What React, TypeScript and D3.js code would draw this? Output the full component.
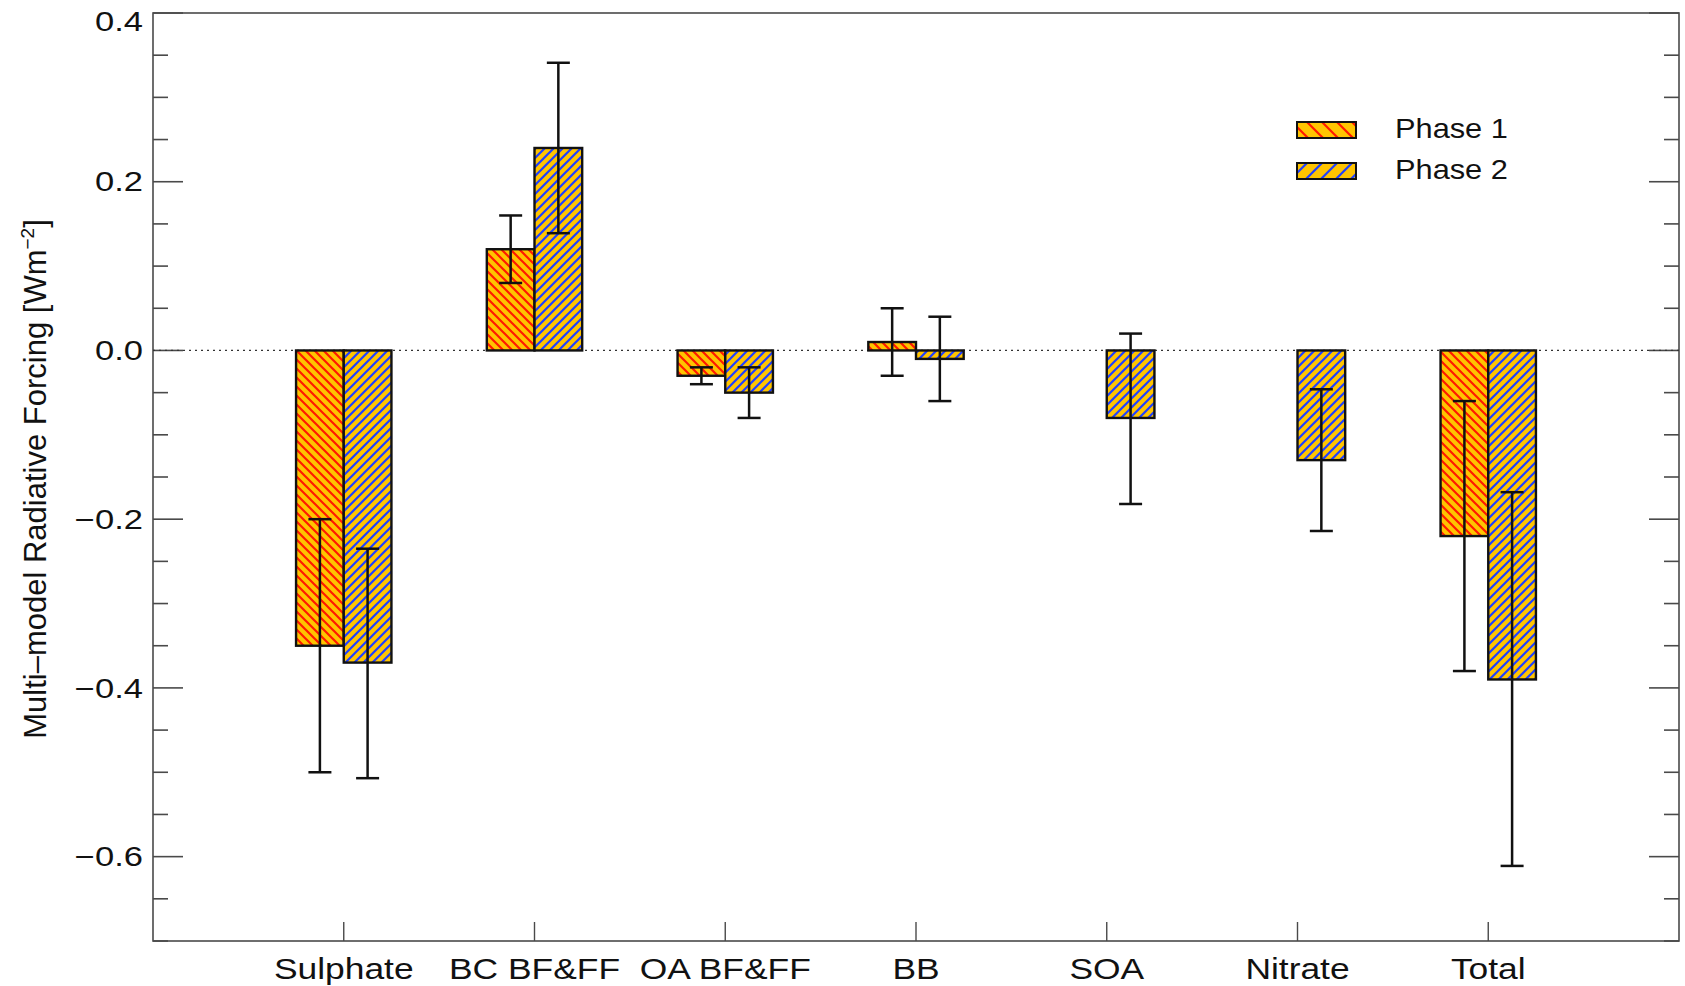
import React, { useEffect, useRef } from "react";
import * as d3 from "d3";

const categories = ["Sulphate", "BC BF&FF", "OA BF&FF", "BB", "SOA", "Nitrate", "Total"];
const phase1 = [-0.35, 0.12, -0.03, 0.01, null, null, -0.22];
const phase1Lo = [-0.5, 0.08, -0.04, -0.03, null, null, -0.38];
const phase1Hi = [-0.2, 0.16, -0.02, 0.05, null, null, -0.06];
const phase2 = [-0.37, 0.24, -0.05, -0.01, -0.08, -0.13, -0.39];
const phase2Lo = [-0.507, 0.139, -0.08, -0.06, -0.182, -0.214, -0.611];
const phase2Hi = [-0.235, 0.341, -0.02, 0.04, 0.02, -0.046, -0.168];
const yMajorTicks = [-0.6, -0.4, -0.2, 0.0, 0.2, 0.4];
const yTickLabels = ["\u22120.6", "\u22120.4", "\u22120.2", "0.0", "0.2", "0.4"];
const seriesNames = ["Phase 1", "Phase 2"];

const W = 1685;
const H = 986;
const FONT = "'Liberation Sans', Arial, Helvetica, sans-serif";
const FILL = "#FFC400";

export default function App() {
  const ref = useRef<SVGSVGElement | null>(null);

  useEffect(() => {
    const svg = d3.select(ref.current);
    svg.selectAll("*").remove();

    const x = d3.scaleLinear().domain([0, 8]).range([153, 1679]);
    const y = d3.scaleLinear().domain([-0.7, 0.4]).range([941, 13]);
    const barW = 0.25;

    const defs = svg.append("defs");
    const mkPattern = (id: string, size: number, color: string, dir: "down" | "up") => {
      const p = defs
        .append("pattern")
        .attr("id", id)
        .attr("patternUnits", "userSpaceOnUse")
        .attr("width", size)
        .attr("height", size);
      p.append("rect").attr("width", size).attr("height", size).attr("fill", FILL);
      const s = size;
      const d =
        dir === "down"
          ? `M0,0 L${s},${s} M${-s / 2},${s / 2} L${s / 2},${s * 1.5} M${s / 2},${-s / 2} L${s * 1.5},${s / 2}`
          : `M0,${s} L${s},0 M${-s / 2},${s / 2} L${s / 2},${-s / 2} M${s / 2},${s * 1.5} L${s * 1.5},${s / 2}`;
      p.append("path").attr("d", d).attr("stroke", color).attr("stroke-width", 2.2).attr("fill", "none");
    };
    mkPattern("p1", 9, "#FF1A00", "down");
    mkPattern("p2", 9, "#2040FF", "up");
    mkPattern("p1L", 15, "#FF1A00", "down");
    mkPattern("p2L", 15, "#2040FF", "up");

    const axisColor = "#4a4a4a";
    const g = svg.append("g");

    // frame
    g.append("rect")
      .attr("x", x(0))
      .attr("y", y(0.4))
      .attr("width", x(8) - x(0))
      .attr("height", y(-0.7) - y(0.4))
      .attr("fill", "none")
      .attr("stroke", axisColor)
      .attr("stroke-width", 1.6);

    // y ticks (minor every 0.05)
    const minor = y.ticks(22);
    minor.forEach((v) => {
      const isMajor = yMajorTicks.some((m) => Math.abs(m - v) < 1e-6);
      const len = isMajor ? 30 : 15;
      g.append("line")
        .attr("x1", x(0)).attr("x2", x(0) + len)
        .attr("y1", y(v)).attr("y2", y(v))
        .attr("stroke", axisColor).attr("stroke-width", 1.6);
      g.append("line")
        .attr("x1", x(8)).attr("x2", x(8) - len)
        .attr("y1", y(v)).attr("y2", y(v))
        .attr("stroke", axisColor).attr("stroke-width", 1.6);
    });

    // y tick labels
    yMajorTicks.forEach((v, i) => {
      const ty = Math.max(y(v), 21);
      g.append("text")
        .attr("transform", `translate(143,${ty}) scale(1.28,1)`)
        .attr("dy", "0.36em")
        .attr("text-anchor", "end")
        .attr("font-family", FONT)
        .attr("font-size", 27)
        .attr("fill", "#111")
        .text(yTickLabels[i]);
    });

    // x ticks
    categories.forEach((c, i) => {
      const cx = x(i + 1);
      g.append("line")
        .attr("x1", cx).attr("x2", cx)
        .attr("y1", y(-0.7)).attr("y2", y(-0.7) - 19)
        .attr("stroke", axisColor).attr("stroke-width", 1.4);
      g.append("text")
        .attr("transform", `translate(${cx},979) scale(1.18,1)`)
        .attr("text-anchor", "middle")
        .attr("font-family", FONT)
        .attr("font-size", 30)
        .attr("fill", "#111")
        .text(c);
    });

    // zero dotted line
    g.append("line")
      .attr("x1", x(0)).attr("x2", x(8))
      .attr("y1", y(0)).attr("y2", y(0))
      .attr("stroke", "#333")
      .attr("stroke-width", 1.3)
      .attr("stroke-dasharray", "2,4");

    // bars
    const drawSeries = (vals: (number | null)[], offset: number, pat: string) => {
      vals.forEach((v, i) => {
        if (v === null) return;
        const x0 = x(i + 1 + offset);
        const x1 = x(i + 1 + offset + barW);
        g.append("rect")
          .attr("x", x0)
          .attr("y", Math.min(y(v), y(0)))
          .attr("width", x1 - x0)
          .attr("height", Math.abs(y(v) - y(0)))
          .attr("fill", `url(#${pat})`)
          .attr("stroke", "#111")
          .attr("stroke-width", 2.4);
      });
    };
    const drawErr = (vals: (number | null)[], lo: (number | null)[], hi: (number | null)[], offset: number) => {
      vals.forEach((v, i) => {
        if (v === null || lo[i] === null || hi[i] === null) return;
        const cx = x(i + 1 + offset + barW / 2);
        const cap = 11.5;
        g.append("line")
          .attr("x1", cx).attr("x2", cx)
          .attr("y1", y(lo[i] as number)).attr("y2", y(hi[i] as number))
          .attr("stroke", "#111").attr("stroke-width", 2.5);
        [lo[i], hi[i]].forEach((e) => {
          g.append("line")
            .attr("x1", cx - cap).attr("x2", cx + cap)
            .attr("y1", y(e as number)).attr("y2", y(e as number))
            .attr("stroke", "#111").attr("stroke-width", 2.5);
        });
      });
    };
    drawSeries(phase1, -barW, "p1");
    drawSeries(phase2, 0, "p2");
    drawErr(phase1, phase1Lo, phase1Hi, -barW);
    drawErr(phase2, phase2Lo, phase2Hi, 0);

    // legend
    const legendPats = ["p1L", "p2L"];
    seriesNames.forEach((name, i) => {
      const ly = 122 + i * 41;
      g.append("rect")
        .attr("x", 1297).attr("y", ly)
        .attr("width", 59).attr("height", 16)
        .attr("fill", `url(#${legendPats[i]})`)
        .attr("stroke", "#111").attr("stroke-width", 2);
      g.append("text")
        .attr("transform", `translate(1395,${ly + 16}) scale(1.14,1)`)
        .attr("font-family", FONT)
        .attr("font-size", 27)
        .attr("fill", "#111")
        .text(name);
    });

    // y axis label
    const lbl = g.append("text")
      .attr("transform", `translate(46,479) rotate(-90)`)
      .attr("text-anchor", "middle")
      .attr("font-family", FONT)
      .attr("font-size", 31)
      .attr("fill", "#111");
    lbl.append("tspan").text("Multi\u2013model Radiative Forcing [Wm");
    lbl.append("tspan").attr("font-size", 19).attr("dy", -12).text("\u22122");
    lbl.append("tspan").attr("dy", 12).text("]");
  }, []);

  return (
    <svg
      ref={ref}
      width={W}
      height={H}
      style={{ position: "absolute", left: 0, top: 0, background: "#fff" }}
    />
  );
}
